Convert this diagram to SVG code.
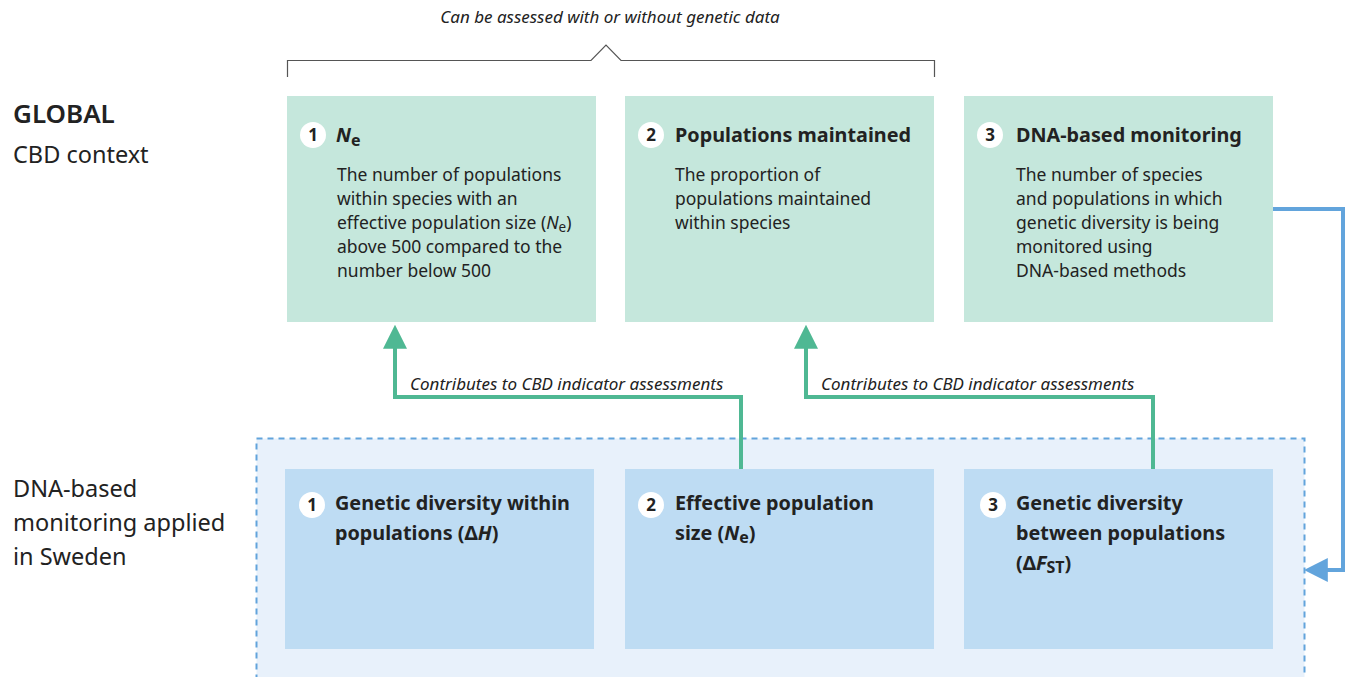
<svg xmlns="http://www.w3.org/2000/svg" width="1349" height="677" viewBox="0 0 1349 677">
  <style>
    .t { font-family: "Noto Sans", "Liberation Sans", sans-serif; fill: #222; }
    .body { font-size: 17.5px; }
    .head { font-size: 19.8px; font-weight: bold; }
    .num { font-size: 17px; font-weight: bold; text-anchor: middle; }
    .side { font-size: 23.5px; }
    .note { font-size: 17px; font-style: italic; }
    .gbox { fill: #c5e7dc; }
    .bbox { fill: #bedcf3; }
    .dot { fill: #ffffff; }
    .glink { fill: none; stroke: #4fb893; stroke-width: 4; }
    .blink { fill: none; stroke: #62a4dc; stroke-width: 4; }
  </style>
  <defs>
    <marker id="ga" viewBox="0 0 10 10" refX="2" refY="5" markerWidth="6" markerHeight="6" orient="auto" markerUnits="strokeWidth">
      <path d="M0,0 L10,5 L0,10 z" fill="#4fb893"/>
    </marker>
    <marker id="ba" viewBox="0 0 10 10" refX="2" refY="5" markerWidth="6" markerHeight="6" orient="auto" markerUnits="strokeWidth">
      <path d="M0,0 L10,5 L0,10 z" fill="#62a4dc"/>
    </marker>
  </defs>

  <rect width="1349" height="677" fill="#ffffff"/>

  <!-- bracket over the three global indicators -->
  <g id="bracket">
    <text class="t note" x="610" y="23" text-anchor="middle" font-size="17.5">Can be assessed with or without genetic data</text>
    <path d="M287.5,77 V60.5 H591 L606,45 L621,60.5 H934.5 V77" fill="none" stroke="#555" stroke-width="1.2"/>
  </g>

  <!-- row labels -->
  <g id="label-global">
    <text class="t" x="13" y="123" font-size="26" font-weight="600">GLOBAL</text>
    <text class="t side" x="13" y="163">CBD context</text>
  </g>
  <g id="label-sweden">
    <text class="t side" x="13" y="497">DNA-based</text>
    <text class="t side" x="13" y="531">monitoring applied</text>
    <text class="t side" x="13" y="565">in Sweden</text>
  </g>

  <!-- monitoring area in Sweden -->
  <g id="sweden-area">
    <rect x="256.5" y="438.5" width="1048" height="250" fill="#e8f1fb" stroke="#62a4dc" stroke-width="2" stroke-dasharray="6 5"/>
  </g>

  <!-- global indicators -->
  <g id="g1">
    <rect class="gbox" x="287" y="96" width="309" height="226"/>
    <circle class="dot" cx="313" cy="135" r="13"/>
    <text class="t num" x="313" y="141">1</text>
    <text class="t head" x="336" y="142"><tspan font-style="italic">N</tspan><tspan font-size="16" dy="4">e</tspan></text>
    <text class="t body" x="337" y="181">The number of populations</text>
    <text class="t body" x="337" y="205">within species with an</text>
    <text class="t body" x="337" y="229">effective population size (<tspan font-style="italic">N</tspan><tspan font-size="13.5" dy="3">e</tspan><tspan dy="-3">)</tspan></text>
    <text class="t body" x="337" y="253">above 500 compared to the</text>
    <text class="t body" x="337" y="277">number below 500</text>
  </g>
  <g id="g2">
    <rect class="gbox" x="625" y="96" width="309" height="226"/>
    <circle class="dot" cx="651" cy="135" r="13"/>
    <text class="t num" x="651" y="141">2</text>
    <text class="t head" x="675" y="142">Populations maintained</text>
    <text class="t body" x="675" y="181">The proportion of</text>
    <text class="t body" x="675" y="205">populations maintained</text>
    <text class="t body" x="675" y="229">within species</text>
  </g>
  <g id="g3">
    <rect class="gbox" x="964" y="96" width="309" height="226"/>
    <circle class="dot" cx="990" cy="135" r="13"/>
    <text class="t num" x="990" y="141">3</text>
    <text class="t head" x="1016" y="142">DNA-based monitoring</text>
    <text class="t body" x="1016" y="181">The number of species</text>
    <text class="t body" x="1016" y="205">and populations in which</text>
    <text class="t body" x="1016" y="229">genetic diversity is being</text>
    <text class="t body" x="1016" y="253">monitored using</text>
    <text class="t body" x="1016" y="277">DNA-based methods</text>
  </g>

  <!-- Swedish indicators -->
  <g id="s1">
    <rect class="bbox" x="285" y="469" width="309" height="180"/>
    <circle class="dot" cx="312" cy="505" r="13"/>
    <text class="t num" x="312" y="511">1</text>
    <text class="t head" x="335" y="510">Genetic diversity within</text>
    <text class="t head" x="335" y="540">populations (Δ<tspan font-style="italic">H</tspan>)</text>
  </g>
  <g id="s2">
    <rect class="bbox" x="625" y="469" width="309" height="180"/>
    <circle class="dot" cx="651" cy="505" r="13"/>
    <text class="t num" x="651" y="511">2</text>
    <text class="t head" x="675" y="510">Effective population</text>
    <text class="t head" x="675" y="540">size (<tspan font-style="italic">N</tspan><tspan font-size="16" dy="3">e</tspan><tspan dy="-3">)</tspan></text>
  </g>
  <g id="s3">
    <rect class="bbox" x="964" y="469" width="309" height="180"/>
    <circle class="dot" cx="993" cy="505" r="13"/>
    <text class="t num" x="993" y="511">3</text>
    <text class="t head" x="1016" y="510">Genetic diversity</text>
    <text class="t head" x="1016" y="540">between populations</text>
    <text class="t head" x="1016" y="570">(Δ<tspan font-style="italic">F</tspan><tspan font-size="16" dy="3">ST</tspan><tspan dy="-3">)</tspan></text>
  </g>

  <!-- connectors -->
  <g id="connectors">
    <path class="glink" d="M741,469 V397 H395 V344" marker-end="url(#ga)"/>
    <path class="glink" d="M1153,469 V397 H806 V344" marker-end="url(#ga)"/>
    <path class="blink" d="M1273,209 H1343 V570 H1323" marker-end="url(#ba)"/>
    <text class="t note" x="410" y="390">Contributes to CBD indicator assessments</text>
    <text class="t note" x="821" y="390">Contributes to CBD indicator assessments</text>
  </g>
</svg>
